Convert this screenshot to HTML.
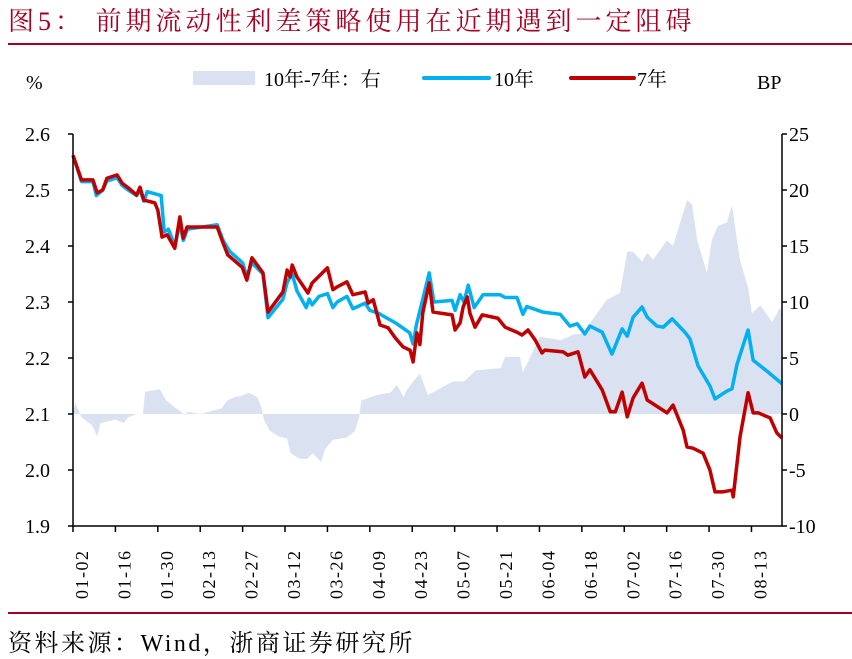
<!DOCTYPE html>
<html><head><meta charset="utf-8">
<style>
html,body{margin:0;padding:0;background:#fff;}
body{width:852px;height:659px;overflow:hidden;position:relative;font-family:"Liberation Serif","Noto Serif CJK SC",serif;}
#title{position:absolute;left:8px;top:1px;font-size:26px;color:#a50021;font-family:"Liberation Serif","Noto Serif CJK SC",serif;letter-spacing:4px;white-space:nowrap;}
#source{position:absolute;left:8px;top:623px;font-size:24px;color:#000;white-space:nowrap;letter-spacing:2.5px;}
svg{position:absolute;left:0;top:0;}
</style></head><body>
<div id="title">图5：&nbsp;前期流动性利差策略使用在近期遇到一定阻碍</div>
<svg id="chart" width="852" height="659"></svg>
<div id="source">资料来源：Wind，浙商证券研究所</div>
<script>
const tickLabels=["01-02","01-16","01-30","02-13","02-27","03-12","03-26","04-09","04-23","05-07","05-21","06-04","06-18","07-02","07-16","07-30","08-13"];
const leftTicks=[1.9,2.0,2.1,2.2,2.3,2.4,2.5,2.6];
const rightTicks=[-10,-5,0,5,10,15,20,25];
const redDays=[0,2,4.7,5.7,7,8,10.4,11.6,13,15,15.8,16.7,19.3,20,21,22.2,24,25.2,26,26.9,34,35.4,36.5,39.9,41,42.2,44.8,46,49.5,50.5,51.2,51.7,52.8,55.4,56.4,60,61.3,62.3,64.6,66,68.9,69.6,70.8,72.4,74.3,76,77.8,79.5,80.2,81.1,81.8,82.5,84,84.9,89.4,90.1,91.3,92,93,93.6,94.8,96.5,100.2,101.9,104.7,105.9,107.3,109,110.6,111.3,115.6,116.7,119.1,120.7,121.9,124.8,126.7,127.9,129.5,130.7,132.1,134.2,135.4,140.1,141.5,143.9,144.8,146.2,148.6,150.2,151.4,153.3,155.4,155.7,157.3,159.2,160.4,161.6,164.4,166,167.2];
const redVals=[2.562,2.518,2.518,2.495,2.50,2.521,2.527,2.512,2.504,2.491,2.505,2.482,2.477,2.464,2.416,2.42,2.396,2.452,2.414,2.434,2.434,2.405,2.384,2.362,2.339,2.379,2.352,2.282,2.318,2.357,2.345,2.366,2.345,2.316,2.334,2.361,2.322,2.327,2.336,2.313,2.318,2.298,2.304,2.259,2.254,2.236,2.220,2.214,2.193,2.245,2.224,2.281,2.334,2.282,2.277,2.25,2.263,2.291,2.309,2.280,2.255,2.277,2.271,2.255,2.246,2.241,2.25,2.232,2.209,2.214,2.211,2.205,2.211,2.166,2.179,2.143,2.104,2.104,2.139,2.095,2.129,2.155,2.125,2.102,2.116,2.071,2.041,2.039,2.030,2.0,1.961,1.961,1.964,1.952,2.059,2.138,2.102,2.102,2.093,2.066,2.057];
const blueDays=[0,2,4.7,5.5,7,8,10.4,11.6,13,15,15.8,16.7,17.5,20.8,21.5,22.5,24,25.2,26,27,34,35.4,37,40,41,42.2,44.8,46,49.5,50.5,51.7,52.8,55,55.7,56.4,58,60,61.3,62.3,64.6,66,68.9,70,72,76,79.4,80.2,81,82,84,85.1,89.4,90.1,91.3,92.2,93.2,94.6,96.7,100.7,101.9,104.7,106.1,107,110.8,114.9,117.2,118.9,120.7,121.9,124.8,127.1,129.5,130.7,132.1,134.2,135.4,137.7,139.2,141.3,144.3,145.5,147.4,150.2,151.4,154.2,155.4,156.6,159.2,160.4,163.9,167.2];
const blueVals=[2.562,2.515,2.515,2.49,2.50,2.516,2.522,2.508,2.50,2.49,2.50,2.48,2.497,2.49,2.425,2.43,2.40,2.44,2.41,2.43,2.438,2.41,2.39,2.37,2.345,2.37,2.35,2.272,2.305,2.335,2.35,2.32,2.29,2.305,2.295,2.31,2.315,2.29,2.30,2.31,2.288,2.298,2.285,2.28,2.263,2.245,2.225,2.26,2.29,2.352,2.30,2.303,2.285,2.313,2.30,2.33,2.29,2.313,2.313,2.308,2.308,2.278,2.292,2.282,2.278,2.257,2.261,2.243,2.257,2.246,2.207,2.252,2.239,2.273,2.291,2.273,2.257,2.255,2.270,2.246,2.234,2.186,2.150,2.127,2.141,2.145,2.189,2.250,2.196,2.175,2.154];
const spreadDays=[0,0.5,2,4.5,5.7,6.5,10,12,13,15,16.5,17,20.5,22,24,26.5,27,30,35,36.4,38,39.4,41.5,43.5,44.5,45,46.4,48.5,50.5,51.3,53.5,55.3,56.5,58.5,59.5,61.3,64.6,66.5,67.5,68,71.7,74.8,76.4,78,78.5,80,81.8,83.7,89.6,92.2,95,100.9,101.9,105.4,106.1,110.1,115,118,120.2,125.9,129,130.7,132.1,134.2,135.4,136.8,140.1,141.5,144.8,146,147.2,149.5,150.7,152.1,154.2,155.4,157.3,159.2,160.1,162.1,164.9,166.7,167.2];
const spreadVals=[0,1.0,-0.3,-1,-2,-0.8,-0.5,-0.8,-0.3,0,0,2.0,2.2,1.2,0.6,-0.1,0.2,0,0.5,1.2,1.5,1.6,1.9,1.5,0.5,-0.5,-1.5,-2.0,-2.2,-3.5,-4.0,-4.0,-3.5,-4.3,-3.1,-2.3,-2.1,-1.5,-0.2,1.2,1.7,1.9,2.6,1.5,2.0,2.8,3.6,1.7,2.9,2.9,3.9,4.1,5.1,5.1,3.7,6.9,6.6,7.1,7.2,10.2,10.8,14.5,14.5,13.6,14.4,13.8,15.5,15.0,19.1,18.7,15.5,12.6,15.6,16.8,17.1,18.6,13.7,11.3,9.0,9.7,8.2,9.5,9.0];

const X0=73,X1=782,Y0=134,Y1=526,NDAYS=167.2,TICKSTEP=10;
const xs=d=>X0+(X1-X0)*d/NDAYS;
const yL=v=>Y1-(v-1.9)/(2.6-1.9)*(Y1-Y0);
const yR=v=>Y1-(v+10)/35*(Y1-Y0);
const NS="http://www.w3.org/2000/svg";
const svg=document.getElementById('chart');
function mk(tag,attrs,parent){const e=document.createElementNS(NS,tag);for(const k in attrs)e.setAttribute(k,attrs[k]);(parent||svg).appendChild(e);return e;}

let r1=mk('line',{x1:8,x2:852,y1:44,y2:44,stroke:'#a50021','stroke-width':2});


let r2=mk('line',{x1:8,x2:852,y1:613,y2:613,stroke:'#a50021','stroke-width':2});



let pts=[xs(spreadDays[0])+','+yR(0)];
spreadDays.forEach((d,i)=>pts.push(xs(d)+','+yR(spreadVals[i])));
pts.push(xs(spreadDays[spreadDays.length-1])+','+yR(0));
let area=mk('polygon',{points:pts.join(' '),fill:'#dae1f1'});



function line(days,vals,color,name){
  const p=mk('polyline',{points:days.map((d,i)=>xs(d)+','+yL(vals[i])).join(' '),fill:'none',stroke:color,'stroke-width':3.5,'stroke-linejoin':'round'});
  
  
}
line(blueDays,blueVals,'#00b0f0','series-10y');
line(redDays,redVals,'#c00000','series-7y');

let ax=mk('path',{d:`M${X0},${Y0}V${Y1}H${X1}V${Y0}`,fill:'none',stroke:'#000','stroke-width':1.5});


leftTicks.forEach(v=>{
  const y=yL(v);
  mk('line',{x1:X0-5,x2:X0,y1:y,y2:y,stroke:'#000','stroke-width':1.5});
  const t=mk('text',{x:50,y:y+7,'text-anchor':'end','font-size':20,'font-family':'Liberation Serif, serif'});
  t.textContent=v.toFixed(1);
  
  
});
rightTicks.forEach(v=>{
  const y=yR(v);
  mk('line',{x1:X1,x2:X1+5,y1:y,y2:y,stroke:'#000','stroke-width':1.5});
  const t=mk('text',{x:789,y:y+7,'font-size':20,'font-family':'Liberation Serif, serif'});
  t.textContent=String(v);
  
  
});
tickLabels.forEach((lab,i)=>{
  const x=xs(i*TICKSTEP);
  mk('line',{x1:x,x2:x,y1:Y1,y2:Y1+6,stroke:'#000','stroke-width':1.5});
  const t=mk('text',{transform:`translate(${x+15},${Y1+73}) rotate(-90)`,'font-size':18,'font-family':'Liberation Serif, serif','letter-spacing':'1.5px'});
  t.textContent=lab;
  
  
});
let u1=mk('text',{x:26,y:89,'font-size':20,'font-family':'Liberation Serif, serif'});u1.textContent='%';


let u2=mk('text',{x:757,y:89,'font-size':20,'font-family':'Liberation Serif, serif'});u2.textContent='BP';



const lg=mk('g',{});


mk('rect',{x:193,y:71,width:62,height:14,fill:'#dae1f1'},lg);
let l1=mk('text',{x:264,y:86,'font-size':20,'font-family':'Liberation Serif, Noto Serif CJK SC, serif'},lg);l1.textContent='10年-7年：右';


mk('line',{x1:424,x2:489,y1:78,y2:78,stroke:'#00b0f0','stroke-width':4,'stroke-linecap':'round'},lg);
let l2=mk('text',{x:494,y:86,'font-size':20,'font-family':'Liberation Serif, Noto Serif CJK SC, serif'},lg);l2.textContent='10年';


mk('line',{x1:571,x2:634,y1:78,y2:78,stroke:'#c00000','stroke-width':4,'stroke-linecap':'round'},lg);
let l3=mk('text',{x:637,y:86,'font-size':20,'font-family':'Liberation Serif, Noto Serif CJK SC, serif'},lg);l3.textContent='7年';


</script>
</body></html>
